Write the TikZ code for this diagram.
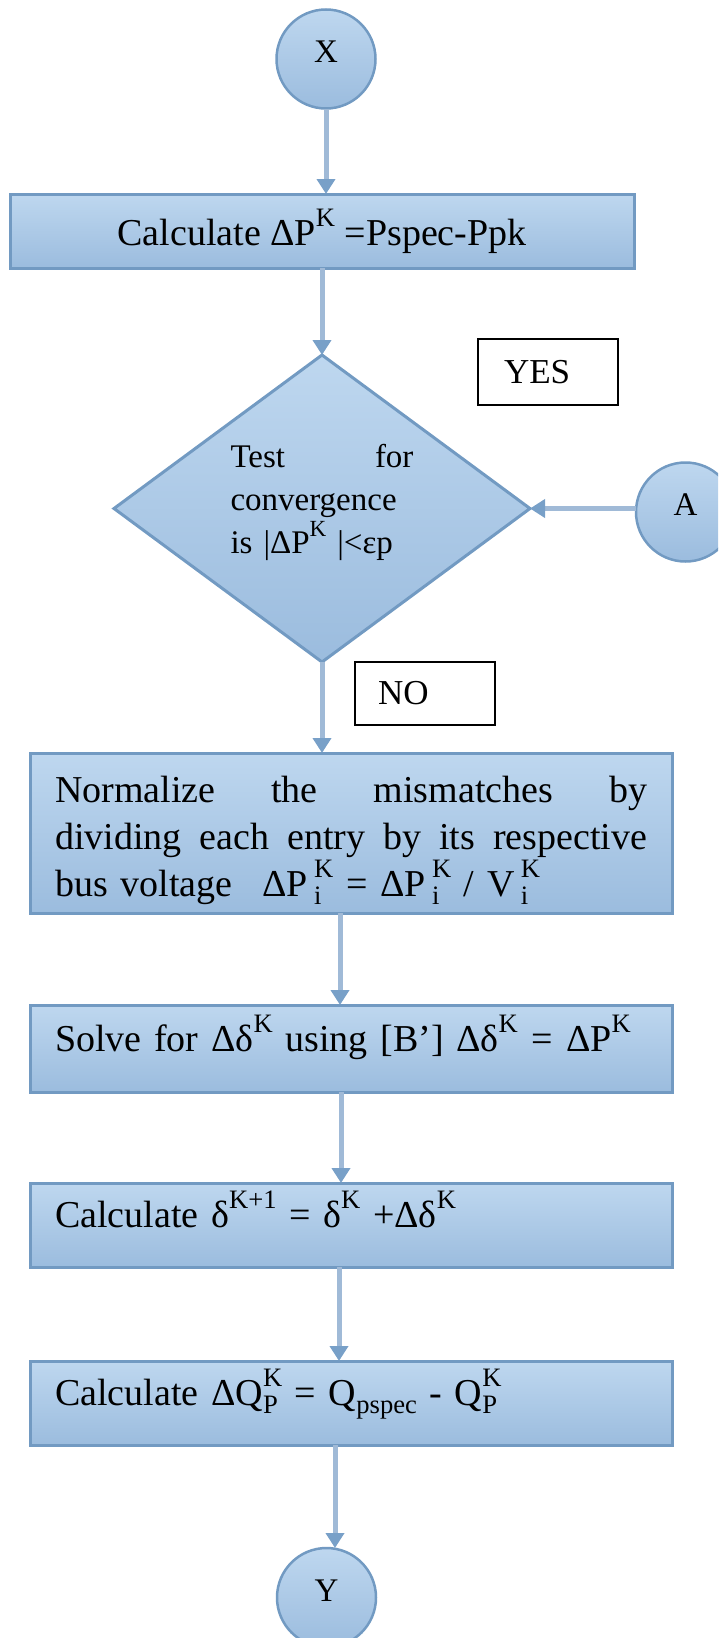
\documentclass[tikz,border=0pt]{standalone}
\usepackage{fontspec}
\setmainfont{Liberation Serif}
\usetikzlibrary{arrows.meta, shapes.geometric}

\definecolor{boxline}{RGB}{114,154,194}
\definecolor{boxtop}{RGB}{190,215,239}
\definecolor{boxbot}{RGB}{155,188,222}
\definecolor{flowline}{RGB}{160,186,215}
\definecolor{flowhead}{RGB}{120,160,200}

\newcommand{\supx}[1]{\raisebox{0.5em}{\scalebox{0.7}{#1}}}
\newcommand{\subx}[1]{\raisebox{-0.2em}{\scalebox{0.7}{#1}}}
\newcommand{\subsupK}[1]{\rlap{\subx{#1}}\supx{K}}

\begin{document}
\begin{tikzpicture}[x=1pt, y=-1pt,
    bluefill/.style={top color=boxtop, bottom color=boxbot, draw=boxline},
    conn/.style={circle, bluefill, line width=2.5pt, minimum size=99pt, inner sep=0pt,
                 outer sep=0pt, text depth=14pt, font=\fontsize{33}{40}\selectfont},
    proc/.style={rectangle, bluefill, line width=3pt, inner xsep=25pt, inner ysep=0pt,
                 outer sep=0pt, font=\fontsize{38}{47}\selectfont},
    wide/.style={proc, minimum width=642pt, text width=592pt, align=left},
    lowtext/.style={text height=30pt, text depth=25pt},
    decide/.style={diamond, bluefill, line width=3pt, aspect=1.355, inner sep=0pt,
                   outer sep=0pt, minimum width=416pt, minimum height=307pt,
                   text width=183pt, align=left, font=\fontsize{33}{43}\selectfont},
    answer/.style={rectangle, draw=black, line width=2.5pt, inner xsep=26pt,
                   inner ysep=0pt, text width=88pt, minimum height=66pt, align=left,
                   font=\fontsize{35}{42}\selectfont},
    flow/.style={draw=flowline, line width=5pt,
                 -{Triangle[width=18pt, length=15pt, color=flowhead]}}]
  \useasboundingbox (0,0) rectangle (718,1638);
  \clip (0,0) rectangle (718,1638);

  \node[conn] (X) at (326,59) {X};
  \node[proc, minimum width=624pt, minimum height=74pt] (delp) at (322,231)
    {Calculate ΔP\supx{K} =Pspec-Ppk};
  \node[decide] (test) at (322,508.5)
    {Test\hfill for\\convergence\\is |ΔP\supx{K} |<εp\rule[-20pt]{0pt}{1pt}};
  \node[answer] (yes) at (548,372) {YES};
  \node[conn] (A) at (685.5,512) {A};
  \node[answer, inner xsep=23pt, text width=94pt, minimum height=63pt] (no) at (425,693.5) {NO};

  \node[wide, minimum height=160pt] (norm) at (351,833)
    {\rule{0pt}{42pt}Normalize\hfill the\hfill mismatches\hfill by\\
     dividing\hfill each\hfill entry\hfill by\hfill its\hfill respective\\
     bus voltage\hspace{30pt}ΔP\,\subsupK{i} = ΔP\,\subsupK{i} / V\,\subsupK{i}};
  \node[wide, lowtext, minimum height=87pt] (solve) at (351,1048.5)
    {Solve for Δδ\supx{K} using [B’] Δδ\supx{K}\hspace{14pt}= ΔP\supx{K}};
  \node[wide, lowtext, minimum height=84pt] (delta) at (351,1225)
    {Calculate δ\supx{K+1} = δ\supx{K} +Δδ\supx{K}};
  \node[wide, lowtext, minimum height=84pt] (dq) at (351,1403)
    {Calculate ΔQ\subsupK{P} = Q\subx{pspec} - Q\subsupK{P}};
  \node[conn] (Y) at (326.5,1597.5) {Y};

  % connectors
  \draw[flow] (X) -- (X |- delp.north);
  \draw[flow] (delp.south -| test.north) -- (test.north);
  \draw[flow] (test.east -| A.west) -- (test.east);
  \draw[flow] (test.south) -- (test.south |- norm.north);
  \draw[flow] ([xshift=-11pt]norm.south) -- ([xshift=-11pt]solve.north);
  \draw[flow] ([xshift=-10pt]solve.south) -- ([xshift=-10pt]delta.north);
  \draw[flow] ([xshift=-12pt]delta.south) -- ([xshift=-12pt]dq.north);
  \draw[flow] ([xshift=-16pt]dq.south) -- ([xshift=-16pt]dq.south |- Y.north);
\end{tikzpicture}
\end{document}
